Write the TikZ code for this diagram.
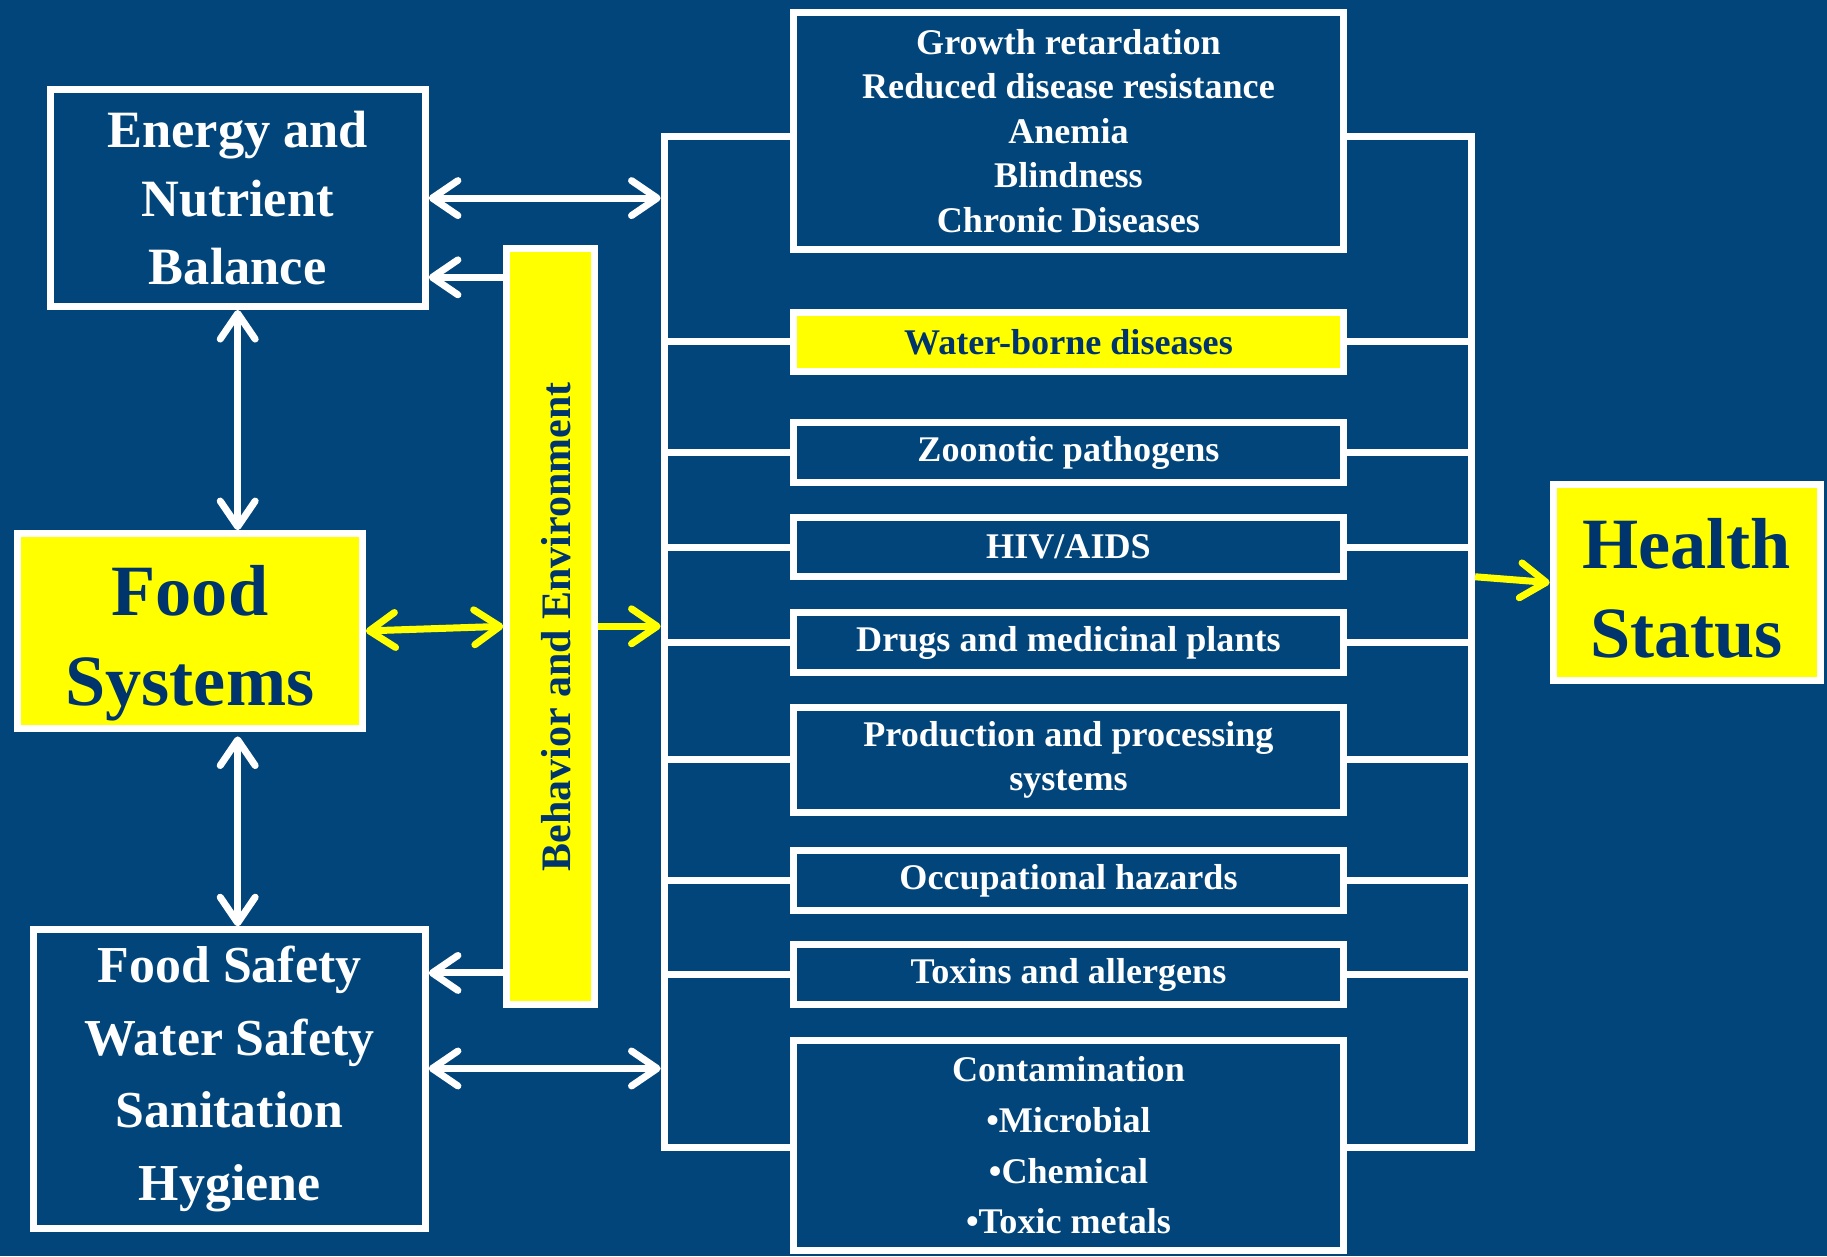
\documentclass[tikz,border=0pt]{standalone}
\usepackage{fontspec}
\setmainfont{Liberation Serif}
\usetikzlibrary{arrows.meta}
\definecolor{bg}{RGB}{2,69,122}
\definecolor{navy}{RGB}{0,52,108}
\definecolor{yel}{RGB}{255,255,0}
\begin{document}
\begin{tikzpicture}[x=0.5pt,y=-0.5pt,
  >={Straight Barb[length=11pt,width=15pt,round]},
  box/.style={draw=white,line width=3pt,fill=bg,text=white,inner sep=0pt,align=center,font=\bfseries},
  ybox/.style={box,fill=yel,text=navy},
  rbox/.style={box,minimum width=236pt,minimum height=25.5pt,font=\bfseries\fontsize{15.5}{19.1}\selectfont},
  bigtxt/.style={text=navy,align=center,inner sep=0pt,font=\bfseries\fontsize{31}{38.5}\selectfont},
  bus/.style={draw=white,line width=3pt},
  wa/.style={draw=white,line width=3pt},
  ya/.style={draw=yel,line width=3pt}]
\path[fill=bg,use as bounding box] (0,0) rectangle (1568,1078);

% left boxes
\node[box,minimum width=161pt,minimum height=93pt,font=\bfseries\fontsize{22.5}{29.5}\selectfont] (en) at (204,170) {Energy and\\Nutrient\\Balance};
\node[ybox,minimum width=148pt,minimum height=83.5pt] (fs) at (163,541.5) {};
\node[bigtxt] (fst) at (163,552) {Food\\Systems};
\node[box,minimum width=168pt,minimum height=128pt,font=\bfseries\fontsize{22.25}{31.3}\selectfont] (sa) at (197,926) {Food Safety\\Water Safety\\Sanitation\\Hygiene};
\node[ybox,minimum width=37.5pt,minimum height=324.5pt] (be) at (472.5,537.5) {};
\node[text=navy,font=\bfseries\fontsize{18}{20}\selectfont,rotate=90,inner sep=0pt] (bet) at (477,538) {Behavior and Environment};

% right column
\node[rbox,minimum height=101.5pt] (r1) at (917,112.5) {Growth retardation\\Reduced disease resistance\\Anemia\\Blindness\\Chronic Diseases};
\node[rbox,fill=yel,text=navy] (r2) at (917,293.5) {Water-borne diseases};
\node[rbox] (r3) at (917,388.5) {Zoonotic pathogens};
\node[rbox] (r4) at (917,469.5) {HIV/AIDS};
\node[rbox] (r5) at (917,551.5) {Drugs and medicinal plants};
\node[rbox,minimum height=45pt] (r6) at (917,652) {Production and processing\\systems};
\node[rbox] (r7) at (917,755.5) {Occupational hazards};
\node[rbox] (r8) at (917,836.5) {Toxins and allergens};
\node[rbox,minimum height=90pt,font=\bfseries\fontsize{15.5}{21.7}\selectfont] (r9) at (917,983) {Contamination\\•Microbial\\•Chemical\\•Toxic metals};

\node[ybox,minimum width=114.5pt,minimum height=84pt] (hs) at (1447.5,500) {};
\node[bigtxt,font=\bfseries\fontsize{31}{38}\selectfont] (hst) at (1447.5,505) {Health\\Status};

% bus lines
\coordinate (lt) at (570,117); \coordinate (lb) at (570,985);
\coordinate (rt) at (1263,117); \coordinate (rb) at (1263,985);
\draw[bus] (r1.west |- lt) -- (lt) -- (lb) -- (r9.west |- lb);
\draw[bus] (r1.east |- rt) -- (rt) -- (rb) -- (r9.east |- rb);
\foreach \n in {r2,r3,r4,r5,r6,r7,r8}{
  \draw[bus] (\n.west) -- (lt |- \n.west);
  \draw[bus] (\n.east) -- (rt |- \n.east);
}

% arrows
\coordinate (bl) at (567,0);
\coordinate (c1) at (0,238);
\coordinate (c2) at (0,835);
\coordinate (c3) at (0,917);
\coordinate (hb) at (1266,495);
\draw[wa,<->] (en.east) -- (bl |- en.east);
\draw[wa,->] (be.west |- c1) -- (en.east |- c1);
\draw[wa,<->] (en.south) -- (en.south |- fs.north);
\draw[wa,<->,shorten <=2pt] (en.south |- fs.south) -- (en.south |- sa.north);
\draw[ya,<->] (fs.east) -- (be.west);
\draw[ya,->] (be.east) -- (bl |- be.east);
\draw[wa,->] (be.west |- c2) -- (sa.east |- c2);
\draw[wa,<->] (sa.east |- c3) -- (bl |- c3);
\draw[ya,->] (hb) -- (hs.west);
\end{tikzpicture}
\end{document}
